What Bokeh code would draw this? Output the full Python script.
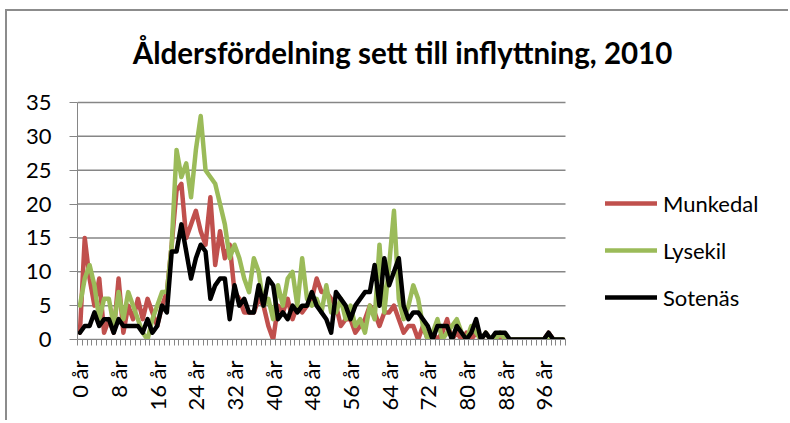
from bokeh.plotting import figure
from bokeh.models import (Range1d, FixedTicker, Legend, LegendItem, Label,
                          ColumnDataSource)
from bokeh.embed import file_html
from bokeh.resources import INLINE
from math import pi

# ---------------- data ----------------
ages = list(range(101))

munkedal = [1, 15, 9, 5, 9, 1, 3, 1, 9, 1,
            5, 3, 6, 3, 6, 4, 2, 5, 7, 14,
            22, 23, 15, 17, 19, 16, 14, 21, 11, 16,
            12, 14, 7, 6, 4, 4, 4, 6, 5, 2,
            0, 5, 4, 6, 3, 5, 4, 5, 6, 9,
            7, 7, 6, 5, 2, 3, 3, 1, 2, 3,
            5, 4, 2, 4, 4, 5, 3, 1, 2, 2,
            0, 2, 0, 1, 0, 1, 3, 0, 1, 0,
            1, 0, 1, 0, 1, 0, 0, 0, 0, 0,
            0, 0, 0, 0, 0, 0, 0, 1, 0, 0, 0]

lysekil = [5, 9, 11, 8, 3, 6, 6, 2, 7, 3,
           7, 5, 3, 1, 0, 3, 5, 7, 7, 14,
           28, 24, 26, 21, 28, 33, 25, 24, 23, 20,
           17, 12, 14, 12, 9, 7, 12, 10, 5, 6,
           3, 8, 5, 9, 10, 5, 12, 6, 5, 6,
           4, 8, 4, 4, 6, 3, 5, 2, 3, 1,
           5, 3, 14, 4, 11, 19, 6, 3, 5, 8,
           6, 2, 0, 1, 3, 0, 1, 2, 3, 1,
           0, 2, 1, 0, 1, 0, 0, 1, 0, 0,
           0, 0, 0, 0, 0, 0, 0, 0, 0, 0, 0]

sotenas = [1, 2, 2, 4, 2, 3, 3, 1, 3, 2,
           2, 2, 2, 1, 3, 1, 2, 5, 4, 13,
           13, 17, 13, 9, 12, 14, 13, 6, 8, 9,
           9, 3, 8, 5, 6, 4, 4, 8, 5, 9,
           8, 3, 4, 3, 5, 4, 5, 5, 7, 5,
           4, 3, 1, 7, 6, 5, 3, 5, 6, 7,
           7, 11, 5, 12, 8, 10, 12, 5, 3, 4,
           4, 3, 2, 0, 2, 2, 2, 0, 2, 1,
           0, 1, 3, 0, 1, 0, 1, 1, 1, 0,
           0, 0, 0, 0, 0, 0, 0, 1, 0, 0, 0]

series_names = ["Munkedal", "Lysekil", "Sotenäs"]
series_colors = ["#C0504D", "#9BBB59", "#000000"]

label_ages = [0, 8, 16, 24, 32, 40, 48, 56, 64, 72, 80, 88, 96]
tick_labels = [f"{a} år" for a in label_ages]
y_ticks = [0, 5, 10, 15, 20, 25, 30, 35]

title_text = "Åldersfördelning sett till inflyttning, 2010"

# ---------------- layout geometry (pixels) ----------------
W, H = 788, 420
FONT = "Lato"
PLOT_L, PLOT_R, PLOT_T, PLOT_B = 77, 565, 102, 339   # plot area in pixels
X0, X1 = -0.5, 100.5                                  # category span
Y0, Y1 = 0, 35
px_x = (PLOT_R - PLOT_L) / (X1 - X0)
px_y = (PLOT_B - PLOT_T) / (Y1 - Y0)
x_end = X0 + (W - PLOT_L) / px_x          # frame extends to right edge
y_end = Y0 + PLOT_B / px_y                # frame extends to top edge

def to_data_x(px):
    return X0 + (px - PLOT_L) / px_x

def to_data_y(py):
    return Y0 + (PLOT_B - py) / px_y

BORDER = "#8c8c8c"
chart_border_css = (
    f"linear-gradient({BORDER}, {BORDER}) 5px 9px / 100% 2px no-repeat, "
    f"linear-gradient({BORDER}, {BORDER}) 5px 9px / 2px 100% no-repeat, "
    "#ffffff"
)

p = figure(width=W, height=H, output_backend="svg", toolbar_location=None,
           x_range=Range1d(X0, x_end), y_range=Range1d(Y0, y_end),
           min_border_left=PLOT_L, min_border_right=0,
           min_border_top=0, min_border_bottom=H - PLOT_B,
           styles={"background": chart_border_css})
p.outline_line_color = None
p.background_fill_color = None
p.border_fill_color = None
p.xgrid.grid_line_color = None
p.ygrid.grid_line_color = None

# horizontal gridlines limited to the plot area
p.segment(x0=[X0] * len(y_ticks), x1=[X1] * len(y_ticks), y0=y_ticks, y1=y_ticks,
          line_color="#868686", line_width=1.5)

src = ColumnDataSource(dict(age=ages, m=munkedal, l=lysekil, s=sotenas))
renderers = []
for col, color in zip(["m", "l", "s"], series_colors):
    r = p.line("age", col, source=src, line_color=color, line_width=4.5,
               line_join="round", line_cap="round")
    renderers.append(r)

# y axis
yax = p.yaxis[0]
yax.bounds = (Y0, Y1)
yax.ticker = FixedTicker(ticks=y_ticks)
yax.axis_line_color = "#868686"
yax.major_tick_line_color = "#868686"
yax.major_tick_out = 8
yax.major_tick_in = 0
yax.minor_tick_line_color = None
yax.major_label_text_font = FONT
yax.major_label_text_font_size = "22px"
yax.major_label_text_color = "#000000"
yax.major_label_standoff = 18

# x axis
xax = p.xaxis[0]
xax.bounds = (X0, X1)
xax.ticker = FixedTicker(ticks=label_ages,
                         minor_ticks=[a - 0.5 for a in ages] + [X1])
xax.major_label_overrides = {a: t for a, t in zip(label_ages, tick_labels)}
xax.major_label_orientation = pi / 2
xax.axis_line_color = "#868686"
xax.major_tick_line_color = None
xax.major_tick_out = 0
xax.major_tick_in = 0
xax.minor_tick_line_color = "#868686"
xax.minor_tick_out = 6
xax.minor_tick_in = 0
xax.major_label_text_font = FONT
xax.major_label_text_font_size = "22px"
xax.major_label_text_color = "#000000"
xax.major_label_standoff = 15

# title
p.add_layout(Label(x=to_data_x(402), y=to_data_y(52), text=title_text,
                   text_align="center", text_baseline="middle",
                   text_font=FONT, text_font_style="bold",
                   text_font_size="29.5px", text_color="#000000"))

# legend (inside the extended frame, right of the plot area)
items = [LegendItem(label=n, renderers=[r]) for n, r in zip(series_names, renderers)]
legend = Legend(items=items, location=(605 - PLOT_L, PLOT_B - 310.5),
                padding=0, margin=0,
                border_line_color=None, background_fill_alpha=0,
                glyph_width=52, glyph_height=20, label_height=20,
                spacing=20, label_standoff=6,
                label_text_font=FONT, label_text_font_size="22px",
                label_text_color="#000000")
p.add_layout(legend, "center")

open("out.html", "w").write(file_html(p, INLINE))
